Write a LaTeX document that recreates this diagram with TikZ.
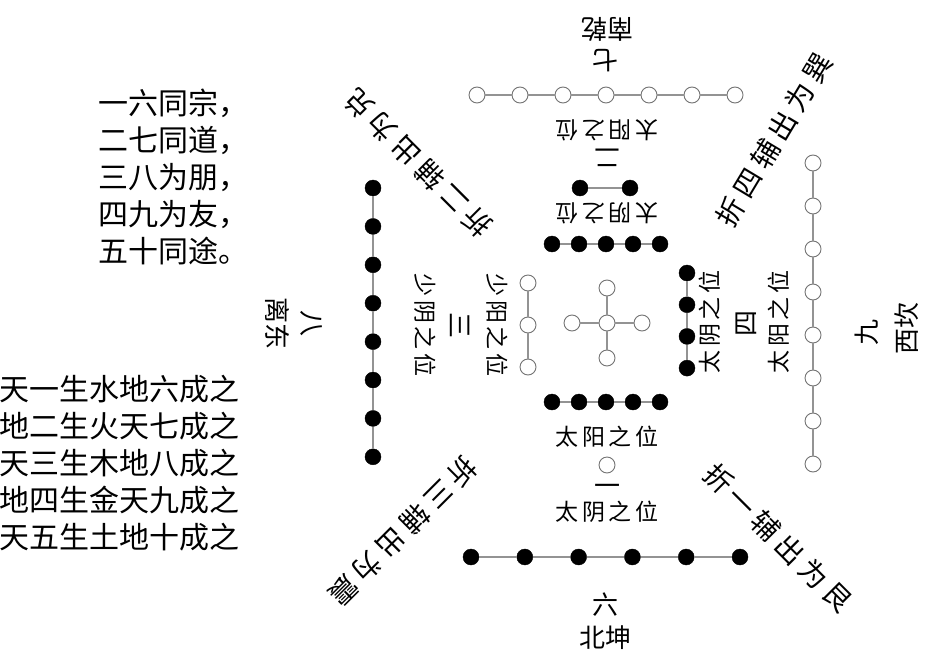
\documentclass[tikz,border=0pt]{standalone}
\usepackage{fontspec}
\newfontfamily\cjk{Noto Sans CJK SC}
\newfontfamily\cjkwide[LetterSpace=20]{Noto Sans CJK SC}
\newfontfamily\cjkplace[LetterSpace=15]{Noto Sans CJK SC}
\tikzset{
  line cap=round,
  line join=round,
  link/.style={draw=gray!85, line width=1.2pt},
  wdot/.style={circle, draw=gray!90!black, fill=white, line width=0.9pt, minimum size=16pt, inner sep=0pt},
  bdot/.style={circle, draw=black, fill=black, minimum size=16pt, inner sep=0pt},
  num/.style={font=\cjk\fontsize{26}{26}\selectfont, inner sep=0pt},
  place/.style={font=\cjkplace\fontsize{23}{23}\selectfont, inner sep=0pt},
  verse/.style={font=\cjk\fontsize{30}{37}\selectfont, align=left, anchor=north west, inner sep=0pt},
  fold/.style={font=\cjkwide\fontsize{28}{28}\selectfont, inner sep=0pt}
}

\begin{document}
\begin{tikzpicture}[x=1pt, y=-1pt]
    \useasboundingbox (0,0) rectangle (936,669);

    % outer chains: 7 south, 8 east, 9 west, 6 north
    \foreach \i in {1,...,7} \node[wdot] (s\i) at ({477+(\i-1)*43}, 95) {};
    \foreach \i [evaluate=\i as \j using int(\i+1)] in {1,...,6} \draw[link] (s\i) -- (s\j);
    \foreach \i in {1,...,8} \node[bdot] (e\i) at (373, {188+(\i-1)*38.4}) {};
    \foreach \i [evaluate=\i as \j using int(\i+1)] in {1,...,7} \draw[link] (e\i) -- (e\j);
    \foreach \i in {1,...,8} \node[wdot] (w\i) at (813, {163+(\i-1)*43}) {};
    \foreach \i [evaluate=\i as \j using int(\i+1)] in {1,...,7} \draw[link] (w\i) -- (w\j);
    \foreach \i in {1,...,6} \node[bdot] (n\i) at ({471+(\i-1)*53.8}, 557) {};
    \foreach \i [evaluate=\i as \j using int(\i+1)] in {1,...,5} \draw[link] (n\i) -- (n\j);

    % inner chains: 2, 3, 4, 1 and the tens
    \node[bdot] (si1) at (580,188) {};
    \node[bdot] (si2) at (630,188) {};
    \draw[link] (si1) -- (si2);
    \foreach \i in {1,...,3} \node[wdot] (ei\i) at (528, {283+(\i-1)*42}) {};
    \foreach \i [evaluate=\i as \j using int(\i+1)] in {1,2} \draw[link] (ei\i) -- (ei\j);
    \foreach \i in {1,...,4} \node[bdot] (wi\i) at (687, {273+(\i-1)*31.7}) {};
    \foreach \i [evaluate=\i as \j using int(\i+1)] in {1,2,3} \draw[link] (wi\i) -- (wi\j);
    \node[wdot] (ni1) at (607,465) {};
    \foreach \i in {1,...,5} {
      \node[bdot] (ta\i) at ({552+(\i-1)*27}, 244) {};
      \node[bdot] (tb\i) at ({552+(\i-1)*27}, 402) {};
    }
    \foreach \i [evaluate=\i as \j using int(\i+1)] in {1,...,4} {
      \draw[link] (ta\i) -- (ta\j);
      \draw[link] (tb\i) -- (tb\j);
    }

    % centre five
    \node[wdot] (c0) at (607,323) {};
    \node[wdot] (cu) at (607,288) {};
    \node[wdot] (cd) at (607,358) {};
    \node[wdot] (cl) at (572,323) {};
    \node[wdot] (cr) at (642,323) {};
    \foreach \k in {cu,cd,cl,cr} \draw[link] (c0) -- (\k);

    % direction labels
    \node[num, rotate=180] (south) at (607,29) {南乾};
    \node[num, rotate=180] (seven) at (605,61) {七};
    \node[num] (six) at (605,605) {六};
    \node[num] (north) at (605,638) {北坤};
    \node[num, rotate=-90] (eight) at (311,323) {八};
    \node[num, rotate=-90] (east) at (277,323) {离东};
    \node[num, rotate=90] (nine) at (867,332) {九};
    \node[num, rotate=90] (west) at (907,328) {西坎};

    % inner labels
    \node[place, rotate=180] (sa) at (607,130) {太阳之位};
    \node[num, rotate=180] (two) at (607,158) {二};
    \node[place, rotate=180] (sb) at (607,213) {太阴之位};
    \node[place] (na) at (607,437) {太阳之位};
    \node[num] (one) at (607,490) {一};
    \node[place] (nb) at (607,512) {太阴之位};
    \node[place, rotate=-90] (ea) at (425,325) {少阴之位};
    \node[num, rotate=-90] (three) at (460,325) {三};
    \node[place, rotate=-90] (eb) at (497,325) {少阳之位};
    \node[place, rotate=90] (wa) at (710,322) {太阴之位};
    \node[num, rotate=90] (four) at (746,323) {四};
    \node[place, rotate=90] (wb) at (779,322) {太阳之位};

    % corner folds
    \node[fold, rotate=135] (fse) at (418,163) {折二辅出为兑};
    \node[fold, rotate=59] (fsw) at (774,140) {折四辅出为巽};
    \node[fold, rotate=225] (fne) at (403,531) {折三辅出为震};
    \node[fold, rotate=-45] (fnw) at (778,538) {折一辅出为艮};

    % verses
    \node[verse] (pairs) at (98,89) {一六同宗，\\二七同道，\\三八为朋，\\四九为友，\\五十同途。};
    \node[verse] (rule) at (-1,375) {天一生水地六成之\\地二生火天七成之\\天三生木地八成之\\地四生金天九成之\\天五生土地十成之};
\end{tikzpicture}
\end{document}
